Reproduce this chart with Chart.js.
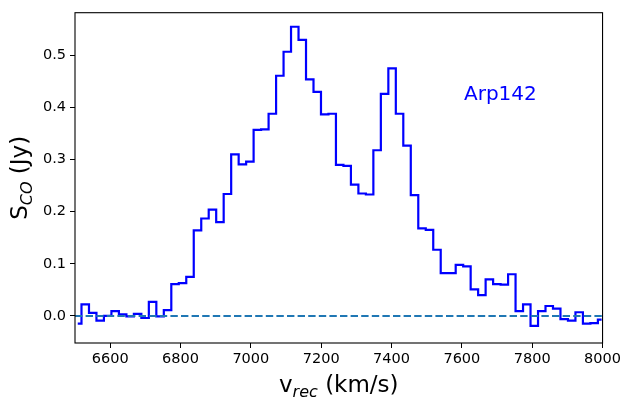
<!DOCTYPE html>
<html>
<head>
<meta charset="utf-8">
<script src="https://cdn.jsdelivr.net/npm/chart.js@4"></script>
<style>
  body { margin: 0; background: #fff; }
  #wrap { width: 624px; height: 406px; }
</style>
</head>
<body>
<div id="wrap"><canvas id="chart" width="624" height="406"></canvas></div>
<script>
// channel centres (km/s) and CO flux (Jy)
const velocity = [
  6507.8, 6529.1, 6550.4, 6571.6, 6592.9, 6614.2, 6635.5, 6656.8, 6678.0, 6699.3,
  6720.6, 6741.9, 6763.2, 6784.4, 6805.7, 6827.0, 6848.3, 6869.6, 6890.8, 6912.1,
  6933.4, 6954.7, 6976.0, 6997.2, 7018.5, 7039.8, 7061.1, 7082.4, 7103.6, 7124.9,
  7146.2, 7167.5, 7188.8, 7210.0, 7231.3, 7252.6, 7273.9, 7295.2, 7316.4, 7337.7,
  7359.0, 7380.3, 7401.6, 7422.8, 7444.1, 7465.4, 7486.7, 7508.0, 7529.2, 7550.5,
  7571.8, 7593.1, 7614.4, 7635.6, 7656.9, 7678.2, 7699.5, 7720.8, 7742.0, 7763.3,
  7784.6, 7805.9, 7827.2, 7848.4, 7869.7, 7891.0, 7912.3, 7933.6, 7954.8, 7976.1,
  7997.4
];
const flux = [
  -0.015, 0.022, 0.006, -0.009, 0.000, 0.009, 0.003, -0.001, 0.004, -0.004,
  0.027, -0.001, 0.011, 0.061, 0.063, 0.075, 0.164, 0.187, 0.204, 0.180,
  0.234, 0.310, 0.291, 0.296, 0.357, 0.358, 0.388, 0.461, 0.507, 0.555,
  0.530, 0.454, 0.430, 0.387, 0.388, 0.290, 0.288, 0.252, 0.235, 0.233,
  0.318, 0.426, 0.475, 0.388, 0.327, 0.232, 0.168, 0.165, 0.127, 0.082,
  0.082, 0.098, 0.095, 0.051, 0.040, 0.070, 0.061, 0.060, 0.080, 0.009,
  0.022, -0.019, 0.009, 0.019, 0.014, -0.006, -0.009, 0.007, -0.015, -0.014,
  -0.007
];
const baselineX = [6500, 8000];
const baselineY = [0, 0];

const xTicks = [6600, 6800, 7000, 7200, 7400, 7600, 7800, 8000];
const xTickLabels = ['6600', '6800', '7000', '7200', '7400', '7600', '7800', '8000'];
const yTicks = [0, 0.1, 0.2, 0.3, 0.4, 0.5];
const yTickLabels = ['0.0', '0.1', '0.2', '0.3', '0.4', '0.5'];

const FONT = '"DejaVu Sans", sans-serif';

// text with a subscript, centred on x
function drawSubText(ctx, parts, x, y) {
  let total = 0;
  parts.forEach(p => { ctx.font = p.font; total += ctx.measureText(p.text).width; });
  let cx = x - total / 2;
  parts.forEach(p => {
    ctx.font = p.font;
    ctx.fillText(p.text, cx, y + p.dy);
    cx += ctx.measureText(p.text).width;
  });
}

const textPlugin = {
  id: 'texts',
  beforeDraw(chart) {
    const ctx = chart.ctx;
    ctx.save();
    ctx.fillStyle = '#fff';
    ctx.fillRect(0, 0, chart.width, chart.height);
    ctx.restore();
  },
  afterDraw(chart) {
    const ctx = chart.ctx;
    const a = chart.chartArea;
    ctx.save();
    // frame
    ctx.strokeStyle = '#000';
    ctx.lineWidth = 1.1;
    ctx.strokeRect(a.left, a.top, a.right - a.left, a.bottom - a.top);

    ctx.fillStyle = '#000';
    ctx.textBaseline = 'alphabetic';
    ctx.textAlign = 'left';
    // x label
    drawSubText(ctx, [
      { text: 'v', font: '23px ' + FONT, dy: 0 },
      { text: 'rec', font: 'italic 16px ' + FONT, dy: 4.5 },
      { text: ' (km/s)', font: '23px ' + FONT, dy: 0 }
    ], (a.left + a.right) / 2, 392);

    // y label
    ctx.save();
    ctx.translate(27, (a.top + a.bottom) / 2);
    ctx.rotate(-Math.PI / 2);
    drawSubText(ctx, [
      { text: 'S', font: '23px ' + FONT, dy: 0 },
      { text: 'CO', font: 'italic 16px ' + FONT, dy: 4.5 },
      { text: ' (Jy)', font: '23px ' + FONT, dy: 0 }
    ], 0, 0);
    ctx.restore();

    // galaxy name
    ctx.fillStyle = '#0000ff';
    ctx.font = '20px ' + FONT;
    ctx.fillText('Arp142', 464, 99.5);
    ctx.restore();
  }
};

new Chart(document.getElementById('chart'), {
  type: 'line',
  data: {
    datasets: [
      {
        label: 'baseline',
        data: baselineX.map((v, i) => ({ x: v, y: baselineY[i] })),
        borderColor: '#1f77b4',
        borderWidth: 2,
        borderDash: [7.4, 3.2],
        pointRadius: 0,
        fill: false,
        order: 0
      },
      {
        label: 'Arp142',
        data: velocity.map((v, i) => ({ x: v, y: flux[i] })),
        borderColor: '#0000ff',
        borderWidth: 2.2,
        stepped: 'middle',
        pointRadius: 0,
        fill: false,
        order: 1
      }
    ]
  },
  options: {
    responsive: false,
    animation: false,
    devicePixelRatio: 1,
    layout: { padding: { top: 2, right: 20, bottom: 0, left: 0 } },
    plugins: { legend: { display: false }, tooltip: { enabled: false } },
    scales: {
      x: {
        type: 'linear',
        min: 6500,
        max: 8000,
        afterFit: s => { s.height = 63; },
        afterBuildTicks: s => { s.ticks = xTicks.map(v => ({ value: v })); },
        ticks: {
          color: '#000',
          font: { family: FONT, size: 14.5 },
          padding: 3,
          maxRotation: 0,
          autoSkip: false,
          callback: (v, i) => xTickLabels[i]
        },
        grid: { display: true, drawOnChartArea: false, drawTicks: true, tickLength: 5, color: '#000' },
        border: { display: false }
      },
      y: {
        type: 'linear',
        min: -0.052,
        max: 0.582,
        afterFit: s => { s.width = 75; },
        afterBuildTicks: s => { s.ticks = yTicks.map(v => ({ value: v })); },
        ticks: {
          color: '#000',
          font: { family: FONT, size: 14.5 },
          padding: 4,
          autoSkip: false,
          callback: (v, i) => yTickLabels[i]
        },
        grid: { display: true, drawOnChartArea: false, drawTicks: true, tickLength: 5, color: '#000' },
        border: { display: false }
      }
    }
  },
  plugins: [textPlugin]
});
</script>
</body>
</html>
